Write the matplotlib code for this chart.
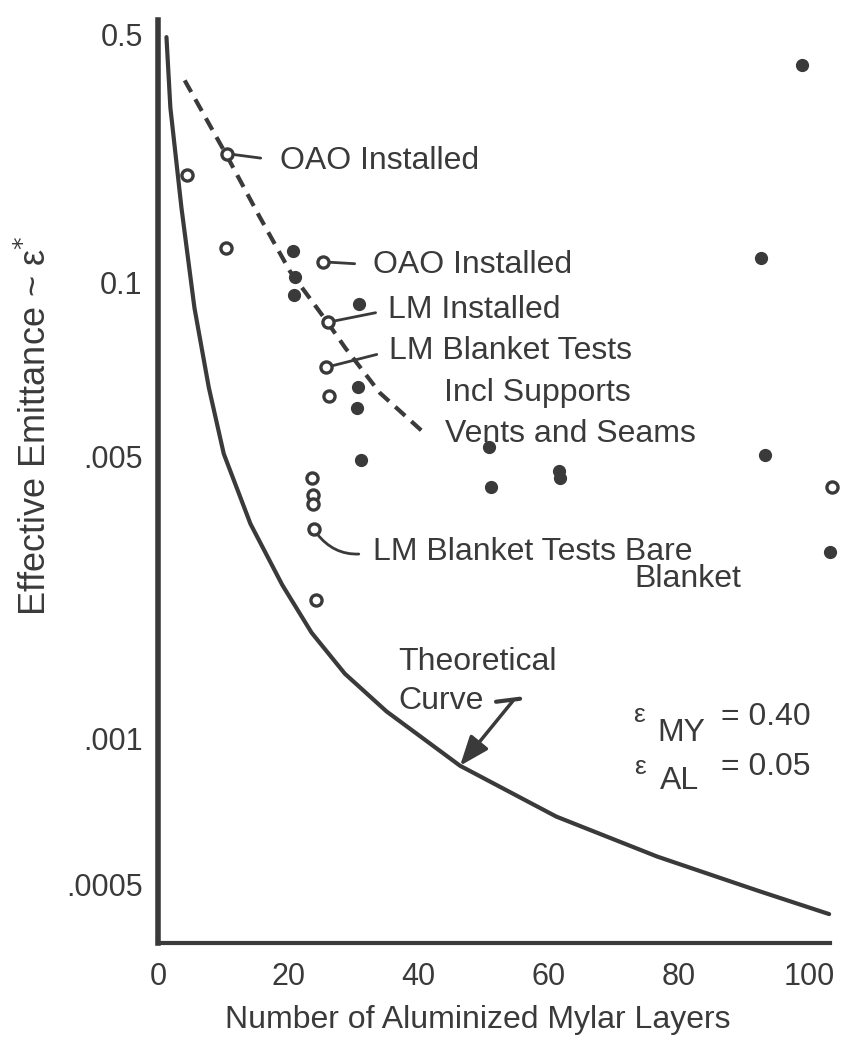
import numpy as np
import matplotlib
matplotlib.use('Agg')
import matplotlib.pyplot as plt
from matplotlib.ticker import NullLocator
from matplotlib.text import OffsetFrom

plt.rcParams['font.family'] = ['Liberation Sans', 'DejaVu Sans']

INK = '#3a3a3a'

# ---- data (layers, effective emittance) ----
open_layers = [4.5, 10.5, 10.6, 25.3, 26.1, 25.8, 26.3, 23.7, 23.8, 23.8, 23.9, 24.3, 103.5]
open_emit = [0.20, 0.125, 0.23, 0.114, 0.050, 0.023, 0.014, 0.0044, 0.0040, 0.0038, 0.0033, 0.0022, 0.0042]

filled_layers = [20.8, 21.1, 20.9, 30.9, 30.7, 30.6, 31.2, 50.9, 51.1, 61.6, 61.7, 93.2, 99.0, 92.6, 103.3]
filled_emit = [0.122, 0.103, 0.080, 0.069, 0.0165, 0.0115, 0.0049, 0.0058, 0.0042, 0.0046, 0.0044,
               0.0051, 0.41, 0.117, 0.0029]

theory_layers = [1.3, 1.9, 3.6, 5.6, 7.8, 10.1, 14.2, 19.1, 23.6, 28.7, 35.1, 46.4, 61.2, 76.7, 92.2, 103.1]
theory_emit = [0.49, 0.31, 0.162, 0.064, 0.0163, 0.0052, 0.0034, 0.0024, 0.00183, 0.00145, 0.00117,
               0.00088, 0.00069, 0.00057, 0.000484, 0.000433]

dashed_layers = [4.1, 10.4, 15.5, 20.3, 25.9, 28.8, 34.1, 41.2]
dashed_emit = [0.37, 0.23, 0.154, 0.107, 0.051, 0.032, 0.0148, 0.0072]

x_ticks = [0, 20, 40, 60, 80, 100]
y_ticks = [0.5, 0.1, 0.005, 0.001, 0.0005]
y_tick_labels = ['0.5', '0.1', '.005', '.001', '.0005']

# labelled points: text, marker (layers, emittance), text offset in pixels, leader gap
callouts = [
    ('OAO Installed', (10.6, 0.23), (53, -7), 12),
    ('OAO Installed', (25.3, 0.114), (50, -3), 11),
    ('LM Installed', (26.1, 0.050), (60, 12), 7),
    ('LM Blanket Tests', (25.8, 0.023), (63, 16), 7),
    ('LM Blanket Tests Bare', (23.9, 0.0033), (59, -23), 8),
]

# ---- the printed axis is not a clean log axis: piecewise log scale ----
STOP_LOGS = np.log10([0.0005, 0.001, 0.005, 0.1, 0.5])
STOP_POS = np.array([59.0, 204.0, 487.0, 661.0, 909.0])
s_lo = (STOP_POS[1] - STOP_POS[0]) / (STOP_LOGS[1] - STOP_LOGS[0])
s_hi = (STOP_POS[-1] - STOP_POS[-2]) / (STOP_LOGS[-1] - STOP_LOGS[-2])


def fwd(y):
    y = np.asarray(y, dtype=float)
    L = np.log10(np.clip(y, 1e-12, None))
    p = np.interp(L, STOP_LOGS, STOP_POS)
    p = np.where(L < STOP_LOGS[0], STOP_POS[0] + (L - STOP_LOGS[0]) * s_lo, p)
    p = np.where(L > STOP_LOGS[-1], STOP_POS[-1] + (L - STOP_LOGS[-1]) * s_hi, p)
    return p


def inv(p):
    p = np.asarray(p, dtype=float)
    L = np.interp(p, STOP_POS, STOP_LOGS)
    L = np.where(p < STOP_POS[0], STOP_LOGS[0] + (p - STOP_POS[0]) / s_lo, L)
    L = np.where(p > STOP_POS[-1], STOP_LOGS[-1] + (p - STOP_POS[-1]) / s_hi, L)
    return 10 ** L


fig = plt.figure(figsize=(8.44, 10.48), dpi=100)
ax = fig.add_axes([158 / 844, 105 / 1048, 683.5 / 844, 923 / 1048])
ax.set_yscale('function', functions=(fwd, inv))
ax.set_xlim(0, 105)
ax.set_ylim(float(inv(0.0)), float(inv(923.0)))

ax.plot(theory_layers, theory_emit, color=INK, lw=3, solid_capstyle='round', clip_on=False)
ax.plot(dashed_layers, dashed_emit, color=INK, lw=3, dashes=(3.2, 2.0))
ax.plot(filled_layers, filled_emit, 'o', ms=8.5, color=INK, mec=INK, clip_on=False, zorder=4)
ax.plot(open_layers, open_emit, 'o', ms=8, mfc='white', mec=INK, mew=2.4, clip_on=False, zorder=4)

for text, xy, off, gap in callouts:
    cs = 'arc3,rad=-0.35' if 'Bare' in text else 'arc3'
    ax.annotate(text, xy=xy, xytext=off, textcoords='offset pixels', ha='left', va='center',
                fontsize=23, color=INK,
                arrowprops=dict(arrowstyle='-', color=INK, lw=2, relpos=(0, 0.5),
                                shrinkA=gap, shrinkB=4, connectionstyle=cs))

# arrow onto the theoretical curve
tip = (46.4, 0.00088)
ax.annotate('', xy=tip, xytext=(53, 65), textcoords='offset pixels',
            arrowprops=dict(arrowstyle='-|>,head_length=0.9,head_width=0.35', color=INK, lw=2.5,
                            shrinkA=0, shrinkB=0, mutation_scale=20))
off = OffsetFrom(ax.transData, tip, unit='pixels')
ax.annotate('', xy=(60, 67), xycoords=off, xytext=(36, 64), textcoords=off,
            arrowprops=dict(arrowstyle='-', color=INK, lw=3, shrinkA=0, shrinkB=0))

notes = [
    ('Incl Supports', 0.418, 0.5955, 23),
    ('Vents and Seams', 0.420, 0.552, 23),
    ('Blanket', 0.697, 0.394, 23),
    ('Theoretical', 0.351, 0.304, 23),
    ('Curve', 0.351, 0.262, 23),
    ('ε', 0.695, 0.247, 19),
    ('MY', 0.730, 0.227, 23),
    ('= 0.40', 0.824, 0.245, 23),
    ('ε', 0.697, 0.191, 19),
    ('AL', 0.735, 0.175, 23),
    ('= 0.05', 0.823, 0.191, 23),
]
for text, fx, fy, size in notes:
    ax.text(fx, fy, text, transform=ax.transAxes, ha='left', va='center', fontsize=size, color=INK)

ax.set_xticks(x_ticks)
ax.set_yticks(y_ticks)
ax.set_yticklabels(y_tick_labels)
ax.yaxis.set_minor_locator(NullLocator())
ax.xaxis.set_minor_locator(NullLocator())
ax.tick_params(axis='both', length=0, labelsize=22, labelcolor=INK)
ax.tick_params(axis='x', pad=14)
ax.tick_params(axis='y', pad=11)

for side in ['top', 'right']:
    ax.spines[side].set_visible(False)
ax.spines['left'].set_linewidth(4)
ax.spines['left'].set_color(INK)
ax.spines['bottom'].set_linewidth(3)
ax.spines['bottom'].set_color(INK)
ax.spines['bottom'].set_bounds(0, 103.2)

fig.text(478 / 844, 1 - 1020 / 1048, 'Number of Aluminized Mylar Layers', ha='center', va='center',
         fontsize=23, color=INK)
fig.text(36 / 844, 1 - 426 / 1048, 'Effective Emittance ~ ε$^{*}$', ha='center', va='center',
         rotation=90, fontsize=26, color=INK)

fig.savefig('out.png', dpi=100)
